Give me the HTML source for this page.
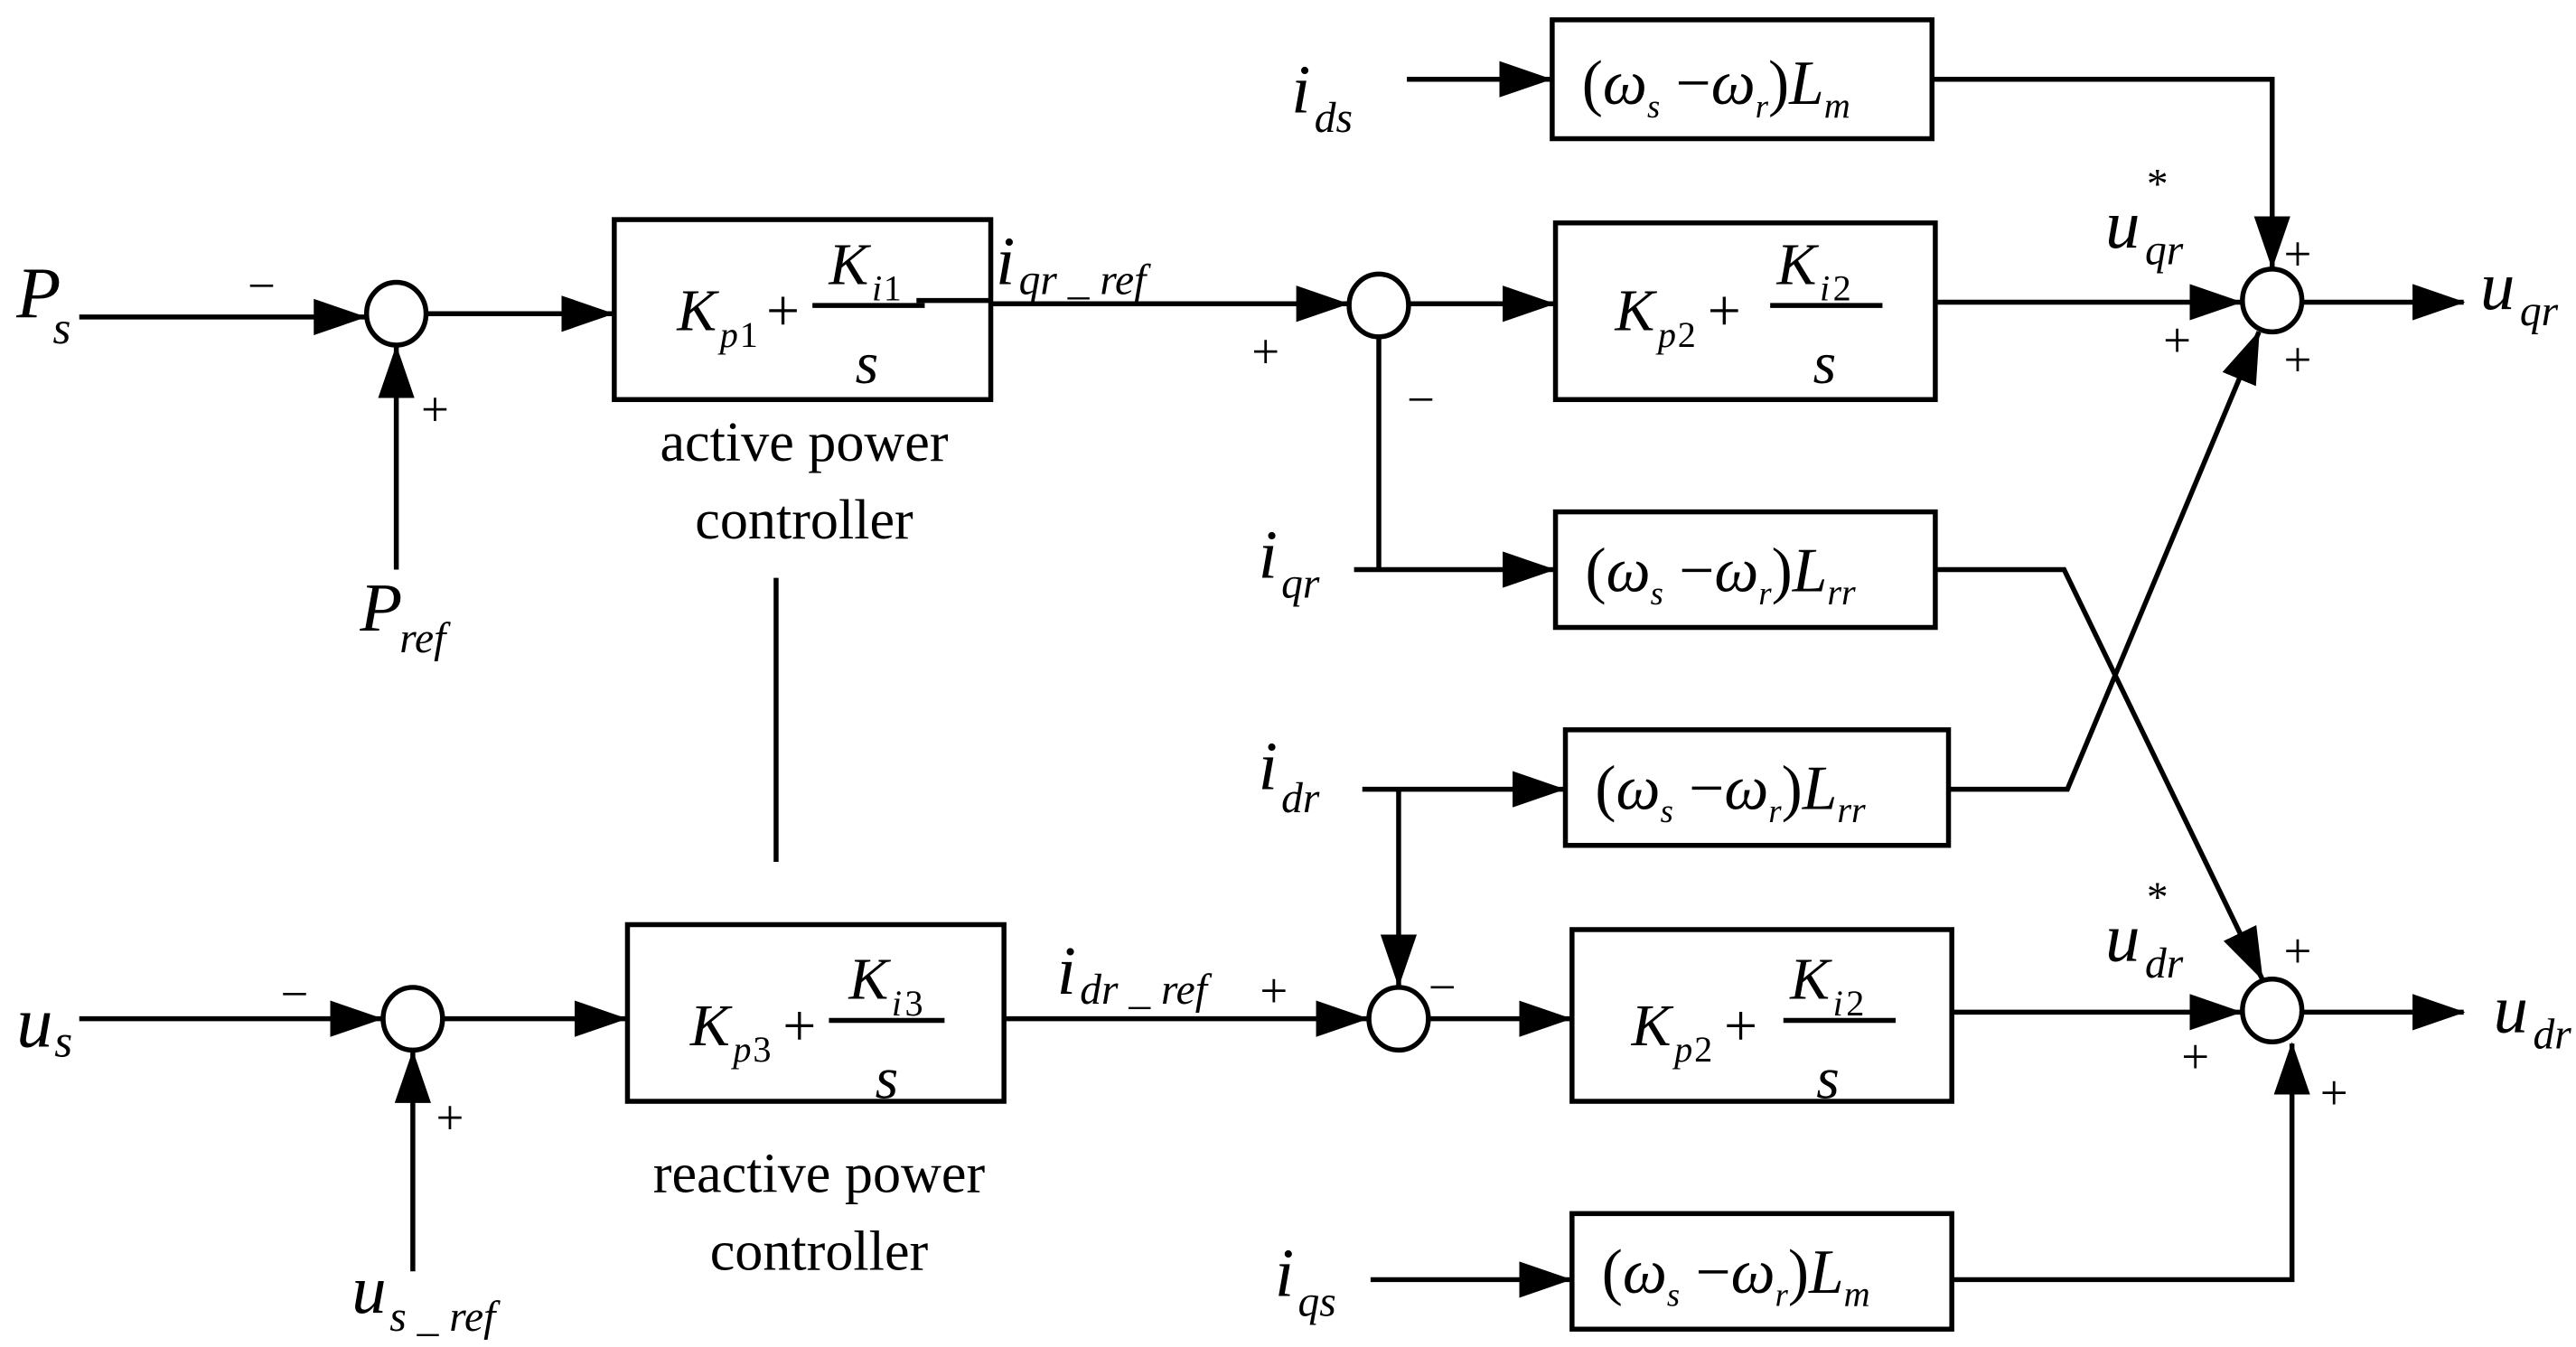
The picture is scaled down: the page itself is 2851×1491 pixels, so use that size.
<!DOCTYPE html>
<html><head><meta charset="utf-8"><style>
html,body{margin:0;padding:0;background:#fff}
svg{display:block;font-family:"Liberation Serif","Times New Roman","DejaVu Serif",serif}
text,tspan{font-family:"Liberation Serif","Times New Roman","DejaVu Serif",serif;fill:#000}
.i{font-style:italic}
</style></head><body>
<svg width="2851" height="1491" viewBox="0 0 1560 815.8" preserveAspectRatio="none" xmlns="http://www.w3.org/2000/svg" font-family="Liberation Serif, DejaVu Serif, serif">
<defs>
<marker id="a" markerWidth="32" markerHeight="22" refX="31" refY="11" orient="auto" markerUnits="userSpaceOnUse">
<path d="M0,0 L32,11 L0,22 Z" fill="#000"/></marker>
</defs>
<g stroke="#000" stroke-width="3" fill="none">
<ellipse cx="240" cy="190" rx="18" ry="19"/>
<ellipse cx="835" cy="185" rx="18" ry="19"/>
<ellipse cx="1376" cy="182" rx="18" ry="19"/>
<ellipse cx="250" cy="617" rx="18" ry="19"/>
<ellipse cx="847" cy="617" rx="18" ry="19"/>
<ellipse cx="1376" cy="612" rx="18" ry="19"/>
<rect x="372" y="133" width="228" height="109"/>
<rect x="942" y="135" width="230" height="107"/>
<rect x="940" y="12" width="230" height="72"/>
<rect x="942" y="310" width="230" height="70"/>
<rect x="948" y="442" width="232" height="70"/>
<rect x="380" y="560" width="228" height="107"/>
<rect x="952" y="563" width="230" height="104"/>
<rect x="952" y="735" width="230" height="70"/>
<line x1="48" y1="192" x2="221" y2="192" marker-end="url(#a)"/>
<line x1="240" y1="345" x2="240" y2="210" marker-end="url(#a)"/>
<line x1="258" y1="190" x2="371" y2="190" marker-end="url(#a)"/>
<polyline points="555,182 600,182"/>
<line x1="600" y1="184" x2="816" y2="184" marker-end="url(#a)"/>
<line x1="853" y1="184" x2="941" y2="184" marker-end="url(#a)"/>
<line x1="1172" y1="183" x2="1357" y2="183" marker-end="url(#a)"/>
<line x1="852" y1="48" x2="939" y2="48" marker-end="url(#a)"/>
<polyline points="1170,48 1376,48 1376,162" marker-end="url(#a)"/>
<line x1="1394" y1="183" x2="1492" y2="183" marker-end="url(#a)"/>
<line x1="835" y1="204" x2="835" y2="345"/>
<line x1="820" y1="345" x2="941" y2="345" marker-end="url(#a)"/>
<polyline points="1172,345 1250,345 1370,593" marker-end="url(#a)"/>
<line x1="825" y1="478" x2="947" y2="478" marker-end="url(#a)"/>
<polyline points="1180,478 1252,478 1368,201" marker-end="url(#a)"/>
<line x1="847" y1="478" x2="847" y2="597" marker-end="url(#a)"/>
<line x1="48" y1="617" x2="231" y2="617" marker-end="url(#a)"/>
<line x1="250" y1="770" x2="250" y2="637" marker-end="url(#a)"/>
<line x1="268" y1="617" x2="379" y2="617" marker-end="url(#a)"/>
<line x1="608" y1="617" x2="828" y2="617" marker-end="url(#a)"/>
<line x1="865" y1="617" x2="951" y2="617" marker-end="url(#a)"/>
<line x1="1182" y1="613" x2="1357" y2="613" marker-end="url(#a)"/>
<line x1="1394" y1="613" x2="1492" y2="613" marker-end="url(#a)"/>
<line x1="830" y1="775" x2="951" y2="775" marker-end="url(#a)"/>
<polyline points="1182,775 1388,775 1388,632" marker-end="url(#a)"/>
<line x1="470" y1="350" x2="470" y2="522"/>
<line x1="492" y1="185" x2="560" y2="185"/>
<line x1="1072" y1="185" x2="1140" y2="185"/>
<line x1="502" y1="618" x2="572" y2="618"/>
<line x1="1080" y1="618" x2="1148" y2="618"/>
</g>
<g font-size="30">
<text x="150" y="183">−</text>
<text x="255" y="258">+</text>
<text x="758" y="223">+</text>
<text x="852" y="252">−</text>
<text x="1310" y="216">+</text>
<text x="1383" y="164">+</text>
<text x="1383" y="228">+</text>
<text x="170" y="612">−</text>
<text x="264" y="687">+</text>
<text x="763" y="610">+</text>
<text x="865" y="608">−</text>
<text x="1321" y="650">+</text>
<text x="1383" y="586">+</text>
<text x="1405" y="672">+</text>
</g>
<g font-size="34" text-anchor="middle">
<text x="487" y="279">active power</text>
<text x="487" y="326">controller</text>
<text x="496" y="722">reactive power</text>
<text x="496" y="769">controller</text>
</g>
<g class="i">
<text x="10" y="192" font-size="44">P</text><text x="32" y="208" font-size="28">s</text>
<text x="218" y="382" font-size="42">P</text><text x="242" y="395" font-size="26">ref</text>
<text x="10" y="634" font-size="44">u</text><text x="33" y="640" font-size="28">s</text>
<text x="213" y="795" font-size="42">u</text><text x="236" y="806" font-size="26">s _ ref</text>
<text x="603" y="172" font-size="42">i</text><text x="617" y="178" font-size="26">qr _ ref</text>
<text x="640" y="602" font-size="42">i</text><text x="654" y="608" font-size="26">dr _ ref</text>
<text x="782" y="68" font-size="42">i</text><text x="796" y="80" font-size="26">ds</text>
<text x="762" y="350" font-size="42">i</text><text x="776" y="362" font-size="26">qr</text>
<text x="762" y="478" font-size="42">i</text><text x="776" y="492" font-size="26">dr</text>
<text x="772" y="785" font-size="42">i</text><text x="786" y="797" font-size="26">qs</text>
<text x="1275" y="150" font-size="42">u</text><text x="1299" y="160" font-size="26">qr</text><text x="1300" y="120" font-size="26" font-style="normal">*</text>
<text x="1275" y="582" font-size="42">u</text><text x="1299" y="592" font-size="26">dr</text><text x="1300" y="552" font-size="26" font-style="normal">*</text>
<text x="1502" y="187" font-size="42">u</text><text x="1526" y="197" font-size="26">qr</text>
<text x="1510" y="625" font-size="42">u</text><text x="1534" y="635" font-size="26">dr</text>
</g>
<g font-size="36">
<text x="410" y="200" class="i">K</text><text x="436" y="210" font-size="22" class="i">p</text><text x="448" y="210" font-size="22">1</text><text x="464" y="200">+</text>
<text x="502" y="172" class="i">K</text><text x="528" y="182" font-size="22" class="i">i</text><text x="535" y="182" font-size="22">1</text>
<text x="518" y="232" class="i">s</text>
<text x="978" y="200" class="i">K</text><text x="1004" y="210" font-size="22" class="i">p</text><text x="1016" y="210" font-size="22">2</text><text x="1034" y="200">+</text>
<text x="1076" y="172" class="i">K</text><text x="1102" y="182" font-size="22" class="i">i</text><text x="1110" y="182" font-size="22">2</text>
<text x="1098" y="232" class="i">s</text>
<text x="418" y="633" class="i">K</text><text x="444" y="643" font-size="22" class="i">p</text><text x="456" y="643" font-size="22">3</text><text x="474" y="633">+</text>
<text x="514" y="605" class="i">K</text><text x="540" y="615" font-size="22" class="i">i</text><text x="548" y="615" font-size="22">3</text>
<text x="530" y="665" class="i">s</text>
<text x="988" y="633" class="i">K</text><text x="1014" y="643" font-size="22" class="i">p</text><text x="1026" y="643" font-size="22">2</text><text x="1044" y="633">+</text>
<text x="1084" y="605" class="i">K</text><text x="1110" y="615" font-size="22" class="i">i</text><text x="1118" y="615" font-size="22">2</text>
<text x="1100" y="665" class="i">s</text>
</g>
<g font-size="38">
<text x="958" y="63">(<tspan class="i">ω</tspan><tspan font-size="20" class="i" dy="8">s</tspan><tspan dy="-8"> −</tspan><tspan class="i">ω</tspan><tspan font-size="20" class="i" dy="8">r</tspan><tspan dy="-8">)</tspan><tspan class="i">L</tspan><tspan font-size="22" class="i" dy="8">m</tspan></text>
<text x="960" y="358">(<tspan class="i">ω</tspan><tspan font-size="20" class="i" dy="8">s</tspan><tspan dy="-8"> −</tspan><tspan class="i">ω</tspan><tspan font-size="20" class="i" dy="8">r</tspan><tspan dy="-8">)</tspan><tspan class="i">L</tspan><tspan font-size="22" class="i" dy="8">rr</tspan></text>
<text x="966" y="490">(<tspan class="i">ω</tspan><tspan font-size="20" class="i" dy="8">s</tspan><tspan dy="-8"> −</tspan><tspan class="i">ω</tspan><tspan font-size="20" class="i" dy="8">r</tspan><tspan dy="-8">)</tspan><tspan class="i">L</tspan><tspan font-size="22" class="i" dy="8">rr</tspan></text>
<text x="970" y="783">(<tspan class="i">ω</tspan><tspan font-size="20" class="i" dy="8">s</tspan><tspan dy="-8"> −</tspan><tspan class="i">ω</tspan><tspan font-size="20" class="i" dy="8">r</tspan><tspan dy="-8">)</tspan><tspan class="i">L</tspan><tspan font-size="22" class="i" dy="8">m</tspan></text>
</g>
</svg>
</body></html>
